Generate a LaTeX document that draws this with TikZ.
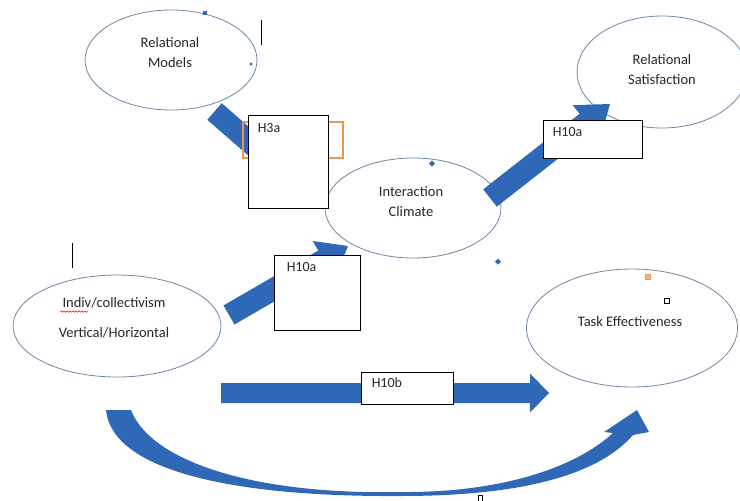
\documentclass[tikz,border=0pt]{standalone}
\usepackage{fontspec}
\setmainfont{Carlito}
\usetikzlibrary{calc,shapes.geometric,decorations.pathmorphing}
\definecolor{arrowblue}{RGB}{46,104,182}
\definecolor{ellline}{RGB}{110,135,170}
\definecolor{boxorange}{RGB}{232,150,80}
\definecolor{txtgray}{RGB}{40,40,40}
% #1 start, #2 tip, #3 shaft half width, #4 head half width, #5 head length
\newcommand{\blkarrow}[5]{%
  \coordinate (hb) at ($(#2)!#5!(#1)$);
  \fill[arrowblue] ($(#1)!#3!90:(#2)$) -- ($(hb)!#3!90:(#2)$) -- ($(hb)!#4!90:(#2)$)
    -- (#2) -- ($(hb)!#4!-90:(#2)$) -- ($(hb)!#3!-90:(#2)$) -- ($(#1)!#3!-90:(#2)$) -- cycle;}
\begin{document}
\begin{tikzpicture}[x=1pt,y=-1pt,
  ell/.style={ellipse,draw=ellline,line width=0.8pt,fill=white,inner sep=0pt},
  txt/.style={align=center,text=txtgray,inner sep=0pt,font=\fontsize{14.5}{20}\selectfont},
  hbox/.style={rectangle,draw=black,line width=0.9pt,fill=white,inner sep=0pt},
  htxt/.style={anchor=west,inner sep=0pt,text=txtgray,font=\fontsize{14}{16}\selectfont},
  strayblue/.style={fill=arrowblue}]
\useasboundingbox (0,0) rectangle (740,501);
\fill[white] (0,0) rectangle (740,501);

% ellipses
\node[ell,minimum width=172pt,minimum height=100pt] (rm) at (171,60) {};
\node[ell,minimum width=176pt,minimum height=100pt] (ic) at (413,208) {};
\node[ell,minimum width=170pt,minimum height=112pt] (rs) at (662,72) {};
\node[ell,minimum width=208pt,minimum height=102pt] (iv) at (117,326) {};
\node[ell,minimum width=211pt,minimum height=118pt] (te) at (632,328) {};

\node[txt] (rmt) at (170,53) {Relational\\Models};
\node[txt] (ict) at (411,202) {Interaction\\Climate};
\node[txt] (rst) at (662,70) {Relational\\Satisfaction};
\node[txt] (ivt) at (114,318) {Indiv/collectivism\\[10pt]Vertical/Horizontal};
\node[txt] (tet) at (630,322) {Task Effectiveness};
\draw[red,line width=0.5pt,decorate,decoration={snake,segment length=3pt,amplitude=0.8pt}] (60,311.5) -- (88,311.5);

% straight block arrows
\coordinate (a1s) at (214.5,111.5);
\coordinate (a1e) at (316,200);
\blkarrow{a1s}{a1e}{11pt}{22pt}{25pt}
\coordinate (a2s) at (229,315);
\coordinate (a2e) at (348,246);
\blkarrow{a2s}{a2e}{11pt}{22pt}{28pt}
\coordinate (a3s) at (490,198);
\coordinate (a3e) at (610,104);
\blkarrow{a3s}{a3e}{11pt}{22pt}{30pt}
\coordinate (a4s) at (221,393);
\coordinate (a4e) at (549,393);
\blkarrow{a4s}{a4e}{10pt}{19.5pt}{19pt}

% curved block arrow
\fill[arrowblue] (106,410) .. controls (112,470) and (230,497) .. (400,496)
  .. controls (500,496) and (592,482) .. (633,435)
  -- (649,432) -- (637,410) -- (604,432) -- (613,433)
  .. controls (575,468) and (500,493) .. (400,492)
  .. controls (250,495) and (150,460) .. (131,410) -- cycle;

% hypothesis boxes
\draw[boxorange,line width=1.5pt] (243,122) rectangle (343,158);
\node[hbox,minimum width=80pt,minimum height=93pt] (h3a) at (288,161.5) {};
\node[htxt] at ($(h3a.north west)+(10,13)$) {H3a};
\node[hbox,minimum width=86pt,minimum height=75pt] (h10a) at (317,292.5) {};
\node[htxt] at ($(h10a.north west)+(13,12)$) {H10a};
\node[hbox,minimum width=99pt,minimum height=38pt] (h10u) at (592.5,139) {};
\node[htxt] at ($(h10u.north west)+(10,12)$) {H10a};
\node[hbox,minimum width=92pt,minimum height=32pt] (h10b) at (407,388) {};
\node[htxt] at ($(h10b.north west)+(11,11)$) {H10b};

% stray marks
\fill[strayblue] (203,11) rectangle (207,15);
\fill[strayblue] (251,64) circle (1.6pt);
\fill[strayblue] (432,160.5) -- (435,163.5) -- (432,166.5) -- (429,163.5) -- cycle;
\fill[strayblue] (498,258.5) -- (501,261.5) -- (498,264.5) -- (495,261.5) -- cycle;
\draw[line width=1pt] (261,20) -- (261,45);
\draw[line width=1pt] (72,243) -- (72,268);
\filldraw[fill=boxorange!70,draw=boxorange,line width=0.8pt] (645.5,274.5) rectangle (650.5,279.5);
\draw[line width=1pt] (664.5,298.5) rectangle (669.5,303);
\draw[line width=0.8pt] (478,495) rectangle (482,501);
\end{tikzpicture}
\end{document}
